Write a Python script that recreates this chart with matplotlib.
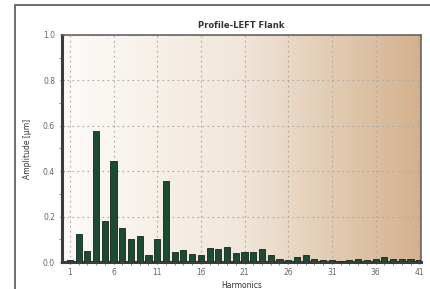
import numpy as np
import matplotlib.pyplot as plt
from matplotlib.colors import LinearSegmentedColormap
from matplotlib.ticker import MultipleLocator
from matplotlib.patches import Rectangle

harmonics = list(range(1, 42))
amplitude = [0.01, 0.125, 0.05, 0.575, 0.18, 0.445, 0.15, 0.10, 0.115, 0.03,
             0.10, 0.355, 0.045, 0.055, 0.035, 0.03, 0.06, 0.057, 0.066, 0.038,
             0.046, 0.046, 0.056, 0.032, 0.015, 0.01, 0.02, 0.03, 0.015, 0.01,
             0.008, 0.005, 0.01, 0.012, 0.01, 0.012, 0.02, 0.015, 0.012, 0.015,
             0.008]
xticks = [1, 6, 11, 16, 21, 26, 31, 36, 41]
yticks = [0.0, 0.2, 0.4, 0.6, 0.8, 1.0]

fig = plt.figure(figsize=(4.3, 2.89), dpi=100)
ax = fig.add_axes([62 / 430, 1 - 262 / 289, (421 - 62) / 430, (262 - 35) / 289])

# frame around the whole picture
fig.patches.append(Rectangle((15 / 430, -0.05), 1.1, 1 - 5 / 289 + 0.05,
                             transform=fig.transFigure, fill=False,
                             edgecolor='#555555', linewidth=1.2))

# gradient background inside the plot
xmin, xmax = 0.1, 41.2
cmap = LinearSegmentedColormap.from_list('bg', ['#fdfbf9', '#f1e6da', '#d4b18d'])
grad = np.linspace(0, 1, 256).reshape(1, -1)
ax.imshow(grad, cmap=cmap, aspect='auto', extent=[xmin, xmax, 0, 1], zorder=0)

ax.bar(harmonics, amplitude, width=0.7, color='#1c4a33', edgecolor='#15251b',
       linewidth=0.6, zorder=3)

ax.set_xlim(xmin, xmax)
ax.set_ylim(0, 1.0)
ax.set_xticks(xticks)
ax.set_xticklabels([str(t) for t in xticks])
ax.set_yticks(yticks)
ax.set_yticklabels([f'{t:.1f}' for t in yticks])
ax.yaxis.set_minor_locator(MultipleLocator(0.1))
ax.xaxis.set_minor_locator(MultipleLocator(1))

ax.grid(True, which='major', linestyle=(0, (1.5, 3)), color='#a8a8a8', linewidth=0.8, zorder=1)
ax.set_axisbelow(True)

for side in ['left', 'bottom']:
    ax.spines[side].set_linewidth(2.2)
    ax.spines[side].set_color('#3c3c3c')
for side in ['right', 'top']:
    ax.spines[side].set_linewidth(1.2)
    ax.spines[side].set_color('#666666')

ax.tick_params(axis='both', which='major', labelsize=5.5, colors='#666666',
               length=3, width=1, direction='inout')
ax.tick_params(axis='both', which='minor', length=2, width=0.6, colors='#777777')
ax.tick_params(axis='x', pad=3)

ax.set_title('Profile-LEFT Flank', fontsize=6, fontweight='bold', color='#333333', pad=5)
ax.set_ylabel('Amplitude [µm]', fontsize=5.5, color='#333333', labelpad=8)
ax.set_xlabel('Harmonics', fontsize=5.5, color='#333333', labelpad=3)

fig.savefig('out.png', dpi=100)
